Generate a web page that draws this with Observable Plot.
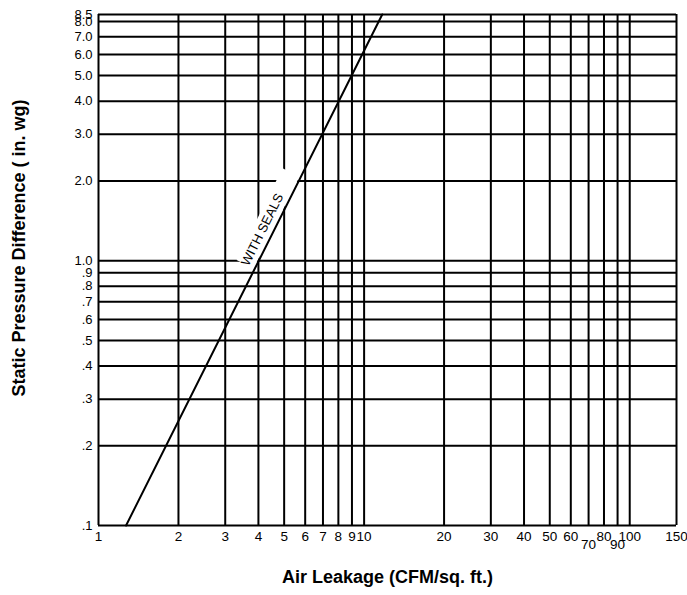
<!DOCTYPE html>
<html>
<head>
<meta charset="utf-8">
<script src="https://cdn.jsdelivr.net/npm/d3@7"></script>
<script src="https://cdn.jsdelivr.net/npm/@observablehq/plot@0.6"></script>
<style>
  html, body { margin: 0; padding: 0; background: #fff; }
  #chart svg { display: block; }
</style>
</head>
<body>
<div id="chart"></div>
<script>
// Gridline / tick values and labels
const xTickValues = [1, 2, 3, 4, 5, 6, 7, 8, 9, 10, 20, 30, 40, 50, 60, 70, 80, 90, 100, 150];
const xTickLabels = ["1", "2", "3", "4", "5", "6", "7", "8", "9", "10", "20", "30", "40", "50", "60", "70", "80", "90", "100", "150"];
const xLoweredTicks = [70, 90];
const yTickValues = [0.1, 0.2, 0.3, 0.4, 0.5, 0.6, 0.7, 0.8, 0.9, 1, 2, 3, 4, 5, 6, 7, 8, 8.5];
const yTickLabels = [".1", ".2", ".3", ".4", ".5", ".6", ".7", ".8", ".9", "1.0", "2.0", "3.0", "4.0", "5.0", "6.0", "7.0", "8.0", "8.5"];

// "WITH SEALS" curve
const sealLeakage = [1.27, 11.7];   // CFM/sq. ft.
const sealPressure = [0.1, 8.5];    // in. wg
const curveLabel = "WITH SEALS";

const xTitle = "Air Leakage (CFM/sq. ft.)";
const yTitle = "Static Pressure Difference ( in. wg)";

const seal = sealLeakage.map((l, i) => ({leakage: l, pressure: sealPressure[i]}));

// position on the (log-log straight) curve for a given pressure, used to place the label
function leakageAt(p) {
  const [l0, l1] = sealLeakage, [p0, p1] = sealPressure;
  const t = (Math.log(p) - Math.log(p0)) / (Math.log(p1) - Math.log(p0));
  return Math.exp(Math.log(l0) + t * (Math.log(l1) - Math.log(l0)));
}
const labelBand = [0.97, 2.15].map(p => ({leakage: leakageAt(p), pressure: p}));
const labelPos = [{leakage: leakageAt(1.31), pressure: 1.31, text: curveLabel}];
const angle = -Math.atan(Math.log(sealPressure[1] / sealPressure[0]) / Math.log(sealLeakage[1] / sealLeakage[0])) * 180 / Math.PI;

const labelOf = (values, labels) => d => labels[values.indexOf(d)];
const xLabel = labelOf(xTickValues, xTickLabels);
const yLabel = labelOf(yTickValues, yTickLabels);

const chart = Plot.plot({
  width: 687,
  height: 595,
  marginLeft: 98,
  marginRight: 11,
  marginTop: 14,
  marginBottom: 70,
  style: {fontFamily: "'Liberation Sans', Arial, Helvetica, sans-serif", color: "black", background: "white"},
  x: {type: "log", domain: [1, 150], axis: null},
  y: {type: "log", domain: [0.1, 8.5], axis: null},
  marks: [
    Plot.ruleX(xTickValues, {stroke: "black", strokeWidth: 2}),
    Plot.ruleY(yTickValues, {stroke: "black", strokeWidth: 2}),
    Plot.line(labelBand, {x: "leakage", y: "pressure", stroke: "white", strokeWidth: 19, strokeLinecap: "butt", dx: -12}),
    Plot.line(seal, {x: "leakage", y: "pressure", stroke: "black", strokeWidth: 2}),
    Plot.text(labelPos, {x: "leakage", y: "pressure", text: "text", rotate: angle, dx: -12, fontSize: 13, fill: "black"}),
    // x tick labels
    Plot.text(xTickValues.filter(d => !xLoweredTicks.includes(d)), {x: d => d, frameAnchor: "bottom", lineAnchor: "top", dy: 6, text: xLabel, fontSize: 13.5, fill: "black"}),
    Plot.text(xLoweredTicks, {x: d => d, frameAnchor: "bottom", lineAnchor: "top", dy: 14, text: xLabel, fontSize: 13.5, fill: "black"}),
    // y tick labels
    Plot.text(yTickValues, {y: d => d, frameAnchor: "left", textAnchor: "end", lineAnchor: "middle", dx: -6, text: yLabel, fontSize: 13, fill: "black"}),
    // axis titles
    Plot.text([xTitle], {frameAnchor: "bottom", lineAnchor: "middle", textAnchor: "middle", dy: 52, fontSize: 18, fontWeight: "bold", fill: "black", style: "letter-spacing:0.8px"}),
    Plot.text([yTitle], {frameAnchor: "left", textAnchor: "middle", lineAnchor: "middle", rotate: -90, dx: -79, dy: -22, fontSize: 18, fontWeight: "bold", fill: "black"})
  ]
});
document.getElementById("chart").appendChild(chart);
</script>
</body>
</html>
